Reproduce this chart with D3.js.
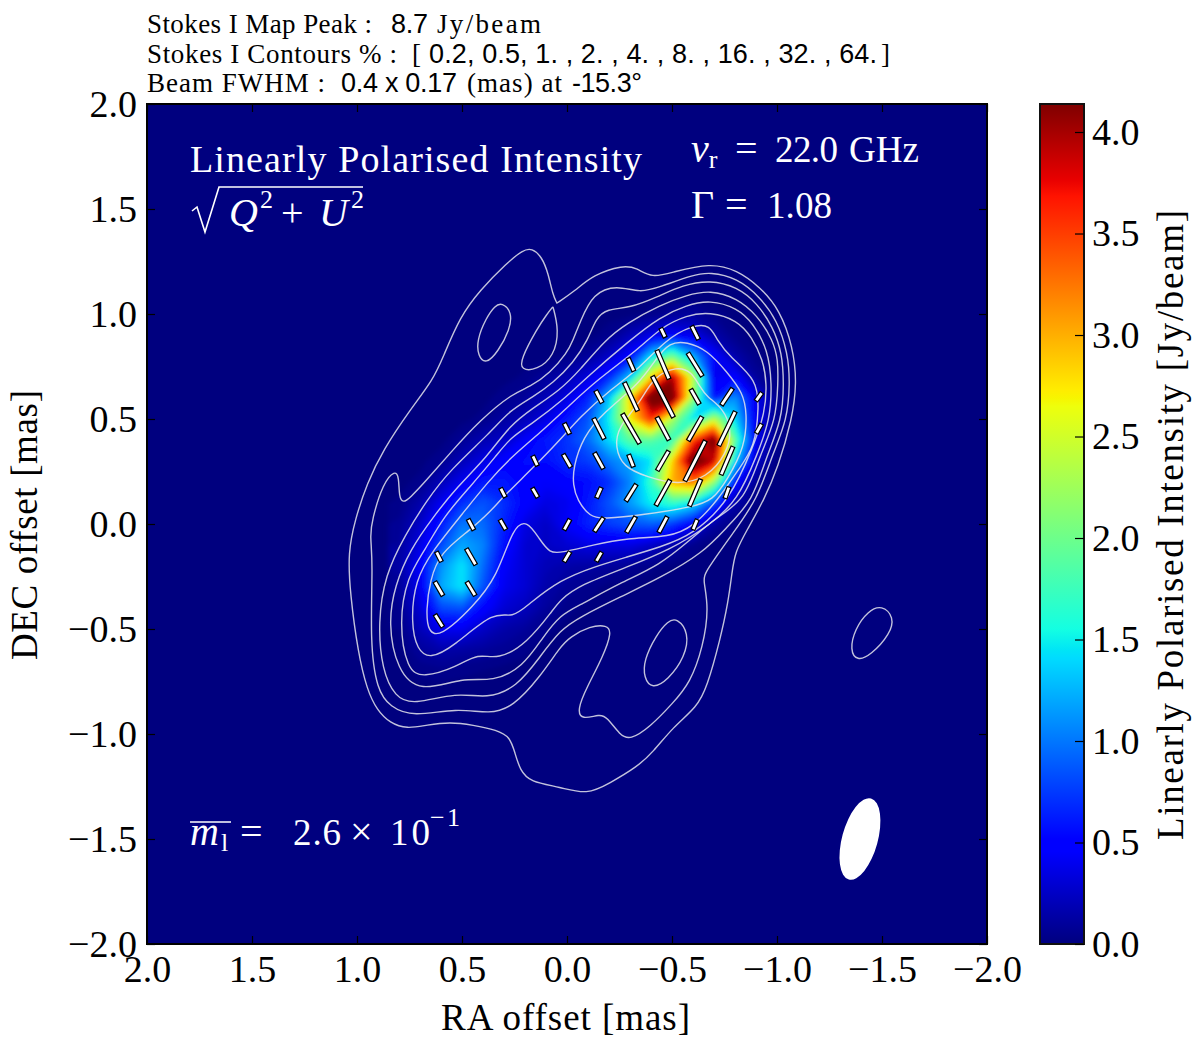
<!DOCTYPE html>
<html>
<head>
<meta charset="utf-8">
<script src="https://cdn.jsdelivr.net/npm/d3@7"></script>
<style>
  html, body { margin: 0; padding: 0; background: #fff; }
  svg { display: block; }
  text { font-family: "Liberation Serif", serif; fill: #000; }
  .sans { font-family: "Liberation Sans", sans-serif; }
  .tick text { font-size: 38px; }
</style>
</head>
<body>
<div id="chart"></div>
<script>
var axisTicks = [2, 1.5, 1, 0.5, 0, -0.5, -1, -1.5, -2];
var colorTicks = [0, 0.5, 1, 1.5, 2, 2.5, 3, 3.5, 4];
var colorMax = 4.138;

// polarised intensity in Jy/beam, every 0.1 mas
var gridRA = [0.8, 0.7, 0.6, 0.5, 0.4, 0.3, 0.2, 0.1, 0, -0.1, -0.2, -0.3, -0.4, -0.5, -0.6, -0.7, -0.8, -0.9, -1.0, -1.1];
var gridDec = [1.0, 0.9, 0.8, 0.7, 0.6, 0.5, 0.4, 0.3, 0.2, 0.1, 0, -0.1, -0.2, -0.3, -0.4, -0.5, -0.6, -0.7, -0.8];
var intensity = [
  [0, 0, 0, 0, 0, 0, 0, 0, 0, 0, 0, 0, .03, .08, .1, .05, 0, 0, 0, 0],
  [0, 0, 0, 0, 0, 0, 0, 0, 0, 0, .05, .2, .35, .45, .38, .15, .04, 0, 0, 0],
  [0, 0, 0, 0, 0, 0, 0, 0, .03, .1, .25, .5, 1.4, 2.0, 1.2, .5, .15, .03, 0, 0],
  [0, 0, 0, 0, 0, 0, .03, .1, .18, .33, .65, 1.3, 2.8, 4.0, 2.4, .4, .5, .1, .02, 0],
  [0, 0, 0, 0, 0, .05, .1, .2, .35, .65, 1.3, 2.8, 4.4, 4.4, 2.2, .55, 1.1, .4, .06, 0],
  [0, 0, 0, 0, .04, .12, .2, .35, .6, .85, 1.5, 2.7, 3.6, 2.3, 1.4, 2.4, 1.4, .4, .05, 0],
  [0, 0, 0, .08, .18, .25, .45, .6, .72, .95, 1.4, 1.9, 1.9, 1.7, 3.5, 4.3, 1.9, .4, .04, 0],
  [0, 0, .06, .2, .35, .5, .55, .55, .7, .75, 1.0, 1.2, 1.45, 2.8, 4.4, 3.9, 1.4, .25, .02, 0],
  [0, .04, .2, .4, .6, .6, .5, .45, .5, .55, .7, 1.05, 1.7, 3.0, 3.3, 2.2, .55, .07, 0, 0],
  [.03, .15, .4, .7, .85, .7, .5, .35, .4, .6, .85, 1.15, 1.5, 1.7, 1.45, .8, .15, .02, 0, 0],
  [.07, .25, .6, 1.0, .95, .65, .35, .25, .45, .65, .75, .85, .9, .75, .45, .12, .03, 0, 0, 0],
  [.1, .35, .8, 1.2, 1.05, .55, .3, .25, .3, .35, .35, .35, .25, .15, .05, 0, 0, 0, 0, 0],
  [.12, .45, 1.1, 1.45, .95, .45, .3, .2, .15, .12, .1, .07, .03, 0, 0, 0, 0, 0, 0, 0],
  [.08, .4, 1.2, 1.45, .85, .4, .3, .15, .08, .05, 0, 0, 0, 0, 0, 0, 0, 0, 0, 0],
  [.05, .3, .8, .85, .5, .3, .22, .1, .04, 0, 0, 0, 0, 0, 0, 0, 0, 0, 0, 0],
  [.02, .2, .4, .4, .25, .15, .1, .04, 0, 0, 0, 0, 0, 0, 0, 0, 0, 0, 0, 0],
  [0, .1, .15, .12, .1, .07, .03, 0, 0, 0, 0, 0, 0, 0, 0, 0, 0, 0, 0, 0],
  [0, .03, .04, .03, .02, 0, 0, 0, 0, 0, 0, 0, 0, 0, 0, 0, 0, 0, 0, 0],
  [0, 0, 0, 0, 0, 0, 0, 0, 0, 0, 0, 0, 0, 0, 0, 0, 0, 0, 0, 0]
];

// stokes I contours as [RA, Dec] in mas, outermost level first
var contour02 = [[.167,1.314],[.119,1.271],[.09,1.195],[.067,1.09],[.048,1.052],[.048,1.052],[.048,1.052],[-.038,1.11],[-.124,1.186],[-.267,1.233],[-.333,1.219],[-.405,1.171],[-.505,1.2],[-.681,1.243],[-.81,1.21],[-.919,1.129],[-1.014,1.019],[-1.076,.843],[-1.095,.671],[-1.071,.495],[-1.005,.271],[-.938,.114],[-.857,-.029],[-.8,-.133],[-.786,-.229],[-.767,-.376],[-.729,-.552],[-.667,-.776],[-.619,-.871],[-.505,-.967],[-.41,-1.086],[-.333,-1.157],[-.205,-1.233],[-.095,-1.29],[.033,-1.252],[.176,-1.229],[.224,-1.171],[.248,-1.09],[.271,-1.014],[.333,-.981],[.448,-.957],[.557,-.943],[.667,-.957],[.762,-.976],[.843,-.948],[.905,-.886],[.952,-.79],[.995,-.614],[1.033,-.329],[1.043,-.138],[1.01,.019],[.952,.195],[.876,.352],[.748,.543],[.638,.686],[.59,.795],[.51,.986],[.414,1.114],[.286,1.243],[.21,1.305]];
var island1 = [[.31,1.055],[.262,1.01],[.272,.924],[.329,.82],[.386,.76],[.424,.8],[.429,.876],[.386,.98],[.343,1.04]];
var island2 = [[.067,1.035],[.067,1.035],[.038,.924],[.061,.8],[.143,.733],[.22,.733],[.22,.785],[.143,.93],[.095,1.0]];
var island3 = [[-.524,-.447],[-.581,-.519],[-.562,-.633],[-.481,-.743],[-.405,-.786],[-.366,-.733],[-.366,-.648],[-.424,-.53],[-.481,-.461]];
var island4 = [[-1.5,-.385],[-1.558,-.443],[-1.539,-.524],[-1.448,-.624],[-1.381,-.653],[-1.347,-.6],[-1.371,-.5],[-1.433,-.414]];
var contour05 = [[.929,.019],[.876,.195],[.819,.257],[.8,.224],[.8,.129],[.781,.1],[.748,.124],[.676,.2],[.557,.338],[.414,.495],[.257,.624],[.176,.652],[.081,.719],[0,.814],[-.029,.876],[-.062,.962],[-.124,1.1],[-.238,1.138],[-.348,1.1],[-.443,1.129],[-.6,1.186],[-.681,1.2],[-.81,1.171],[-.919,1.081],[-1,.971],[-1.052,.814],[-1.062,.671],[-1.048,.495],[-.981,.338],[-.905,.114],[-.79,-.043],[-.657,-.229],[-.648,-.267],[-.676,-.395],[-.648,-.586],[-.586,-.757],[-.505,-.852],[-.395,-.967],[-.3,-1.029],[-.252,-1.005],[-.19,-.919],[-.157,-.905],[-.071,-.933],[-.048,-.886],[-.095,-.776],[-.171,-.633],[-.214,-.514],[-.19,-.481],[-.11,-.486],[-.014,-.538],[.033,-.586],[.129,-.729],[.257,-.871],[.367,-.905],[.524,-.876],[.733,-.919],[.843,-.871],[.905,-.79],[.938,-.567],[.924,-.171],[.938,-.062]];
var contour1 = [[.771,-.052],[.667,.114],[.557,.257],[.367,.433],[.271,.543],[.162,.605],[.067,.671],[-.029,.767],[-.1,.876],[-.138,.981],[-.19,1.024],[-.3,1.029],[-.429,1.081],[-.552,1.138],[-.681,1.162],[-.81,1.129],[-.905,1.052],[-.981,.938],[-1.024,.814],[-1.033,.671],[-1.024,.495],[-.943,.305],[-.886,.114],[-.762,-.014],[-.648,-.138],[-.443,-.257],[-.252,-.348],[-.062,-.443],[.033,-.505],[.129,-.633],[.238,-.776],[.381,-.833],[.524,-.8],[.733,-.862],[.819,-.824],[.881,-.695],[.9,-.471],[.867,-.243]];
var contour2 = [[.748,-.124],[.638,.033],[.524,.176],[.381,.319],[.271,.471],[.162,.552],[.033,.638],[-.062,.733],[-.181,.876],[-.286,.957],[-.443,1.043],[-.571,1.09],[-.681,1.114],[-.81,1.076],[-.905,.995],[-.981,.876],[-1.005,.781],[-1.005,.671],[-.995,.495],[-.919,.329],[-.848,.114],[-.714,.033],[-.586,-.076],[-.443,-.195],[-.252,-.281],[-.062,-.386],[.033,-.433],[.114,-.538],[.21,-.681],[.352,-.752],[.495,-.729],[.7,-.805],[.81,-.695],[.852,-.471],[.819,-.29]];
var contour4 = [[.676,-.124],[.59,.033],[.462,.176],[.333,.329],[.271,.41],[.162,.481],[.019,.59],[-.095,.7],[-.3,.876],[-.443,.986],[-.571,1.043],[-.681,1.067],[-.81,1.029],[-.886,.957],[-.957,.829],[-.976,.671],[-.967,.495],[-.905,.329],[-.814,.114],[-.681,-.005],[-.49,-.124],[-.286,-.205],[-.062,-.29],[.033,-.362],[.067,-.41],[.19,-.567],[.329,-.648],[.424,-.614],[.524,-.681],[.686,-.733],[.762,-.695],[.8,-.471],[.762,-.252]];
var contour8 = [[.724,-.267],[.638,-.124],[.495,.052],[.381,.195],[.271,.314],[.129,.433],[-.014,.567],[-.143,.686],[-.348,.838],[-.443,.933],[-.571,.995],[-.681,1.01],[-.81,.971],[-.881,.89],[-.933,.781],[-.952,.671],[-.943,.529],[-.886,.367],[-.776,.114],[-.6,-.052],[-.443,-.11],[-.286,-.157],[-.124,-.205],[.033,-.267],[.176,-.376],[.262,-.452],[.343,-.41],[.543,-.586],[.652,-.643],[.714,-.6],[.743,-.471]];
var contour16 = [[.671,-.41],[.652,-.267],[.605,-.138],[.462,-.029],[.367,.057],[.305,.129],[.162,.267],[.033,.4],[-.062,.51],[-.205,.638],[-.348,.743],[-.467,.876],[-.6,.948],[-.681,.948],[-.714,.876],[-.776,.795],[-.905,.686],[-.914,.557],[-.895,.367],[-.814,.257],[-.719,.114],[-.6,-.014],[-.49,-.062],[-.286,-.067],[-.124,-.1],[.033,-.138],[.081,-.138],[.129,-.076],[.19,.02],[.257,-.014],[.333,-.252],[.448,-.395],[.605,-.539],[.662,-.514]];
var contour32 = [[-.029,.267],[-.076,.414],[-.171,.529],[-.348,.671],[-.419,.781],[-.49,.867],[-.571,.867],[-.667,.829],[-.762,.724],[-.838,.624],[-.857,.529],[-.848,.367],[-.762,.21],[-.695,.114],[-.6,.081],[-.362,.043],[-.171,.024],[-.11,.033],[-.048,.114],[-.029,.186]];
var contour64 = [[-.229,.367],[-.243,.462],[-.348,.576],[-.41,.7],[-.524,.752],[-.595,.724],[-.633,.652],[-.667,.605],[-.743,.552],[-.786,.448],[-.762,.338],[-.667,.219],[-.524,.186],[-.381,.224],[-.267,.271]];
var allContours = [contour02, island1, island2, island3, island4, contour05, contour1, contour2, contour4, contour8, contour16, contour32, contour64];

// polarisation ticks: RA, Dec, length (mas), angle from north (deg)
var evpaTicks = [
  [-.457,.911,.048,25.7],[-.61,.911,.071,26.6],
  [-.305,.759,.067,24],[-.457,.759,.148,23],[-.61,.759,.129,31.7],
  [-.152,.606,.065,27.8],[-.305,.606,.148,25],[-.457,.606,.219,27],[-.61,.606,.081,29.6],[-.762,.606,.095,-33.4],[-.914,.606,.048,-35.8],
  [0,.454,.057,26.6],[-.152,.454,.11,27],[-.305,.454,.162,30],[-.457,.454,.122,28],[-.61,.454,.131,-29.7],[-.762,.454,.18,-25.7],[-.914,.454,.051,-29.7],
  [.152,.301,.052,25],[0,.301,.071,30],[-.152,.301,.086,29],[-.305,.301,.062,21],[-.457,.301,.107,-30],[-.61,.301,.214,-27],[-.762,.301,.145,-23],
  [.305,.149,.048,27],[.152,.149,.051,30],[-.152,.149,.054,-24],[-.305,.149,.093,-32],[-.457,.149,.138,-29],[-.61,.149,.138,-23],[-.762,.149,.057,-19],
  [.457,-.003,.057,28],[.305,-.003,.055,30],[0,-.003,.057,-29],[-.152,-.003,.079,-33],[-.305,-.003,.086,-30],[-.457,-.003,.084,-28],[-.61,-.003,.052,-23],
  [.61,-.156,.052,27],[.457,-.156,.088,30],[0,-.156,.055,-31],[-.152,-.156,.051,-30],
  [.61,-.308,.076,30],[.457,-.308,.076,31],
  [.61,-.461,.069,32]
];

var beamMajor = 0.4, beamMinor = 0.17, beamAngle = -15.3;
var beamCenter = [-1.395, -1.5];

// matplotlib jet
var jetStops = [0, .11, .125, .34, .35, .375, .64, .65, .66, .89, .91, 1];
var jetColors = ["#00007f", "#0000ff", "#0000ff", "#00dbff", "#00e5f6", "#14ffe2", "#eeff0c", "#f7f500", "#ffec00", "#ff1300", "#e80000", "#7f0000"];

var width = 1200, height = 1049;
var x = d3.scaleLinear().domain([2, -2]).range([147, 987]);
var y = d3.scaleLinear().domain([2, -2]).range([104, 944]);
var cbar = d3.scaleLinear().domain([0, colorMax]).range([944, 104]);
var color = d3.scaleLinear().domain(jetStops.map(function (s) { return s * colorMax; })).range(jetColors).clamp(true);
var fmt = function (d) { return d3.format(".1f")(d).replace("-", "\u2212"); };
var masToPx = function (d) { return x(-d) - x(0); };

var svg = d3.select("#chart").append("svg").attr("width", width).attr("height", height);
var defs = svg.append("defs");

defs.append("clipPath").attr("id", "plot-clip").append("rect")
  .attr("x", x(2)).attr("y", y(2)).attr("width", x(-2) - x(2)).attr("height", y(-2) - y(2));

var blur = defs.append("filter").attr("id", "soften").attr("filterUnits", "userSpaceOnUse")
  .attr("x", 147).attr("y", 104).attr("width", 840).attr("height", 840);
blur.append("feGaussianBlur").attr("stdDeviation", 2.5);

var grad = defs.append("linearGradient").attr("id", "jet")
  .attr("x1", 0).attr("y1", 1).attr("x2", 0).attr("y2", 0);
grad.selectAll("stop").data(jetStops).enter().append("stop")
  .attr("offset", function (d) { return d; })
  .attr("stop-color", function (d, i) { return jetColors[i]; });

// image
var plot = svg.append("g").attr("clip-path", "url(#plot-clip)");
plot.append("rect").attr("x", x(2)).attr("y", y(2))
  .attr("width", x(-2) - x(2)).attr("height", y(-2) - y(2)).attr("fill", color(0));

var flat = [];
intensity.forEach(function (row) { row.forEach(function (v) { flat.push(v); }); });
var levels = d3.range(0.02, 4.5, 0.04);
var bands = d3.contours().size([gridRA.length, gridDec.length]).thresholds(levels)(flat);

var raAt = d3.scaleLinear().domain([0.5, gridRA.length - 0.5]).range([gridRA[0], gridRA[gridRA.length - 1]]);
var decAt = d3.scaleLinear().domain([0.5, gridDec.length - 0.5]).range([gridDec[0], gridDec[gridDec.length - 1]]);
var gridPath = d3.geoPath(d3.geoTransform({
  point: function (a, b) { this.stream.point(x(raAt(a)), y(decAt(b))); }
}));

plot.append("g").attr("filter", "url(#soften)")
  .selectAll("path").data(bands).enter().append("path")
  .attr("d", gridPath)
  .attr("fill", function (d) { return color(d.value + 0.02); });

// stokes I contours
var contourLine = d3.line()
  .x(function (d) { return x(d[0]); })
  .y(function (d) { return y(d[1]); })
  .curve(d3.curveBasisClosed);

plot.append("g").selectAll("path").data(allContours).enter().append("path")
  .attr("d", contourLine)
  .attr("fill", "none")
  .attr("stroke", "#e4e4ec")
  .attr("stroke-opacity", 0.85)
  .attr("stroke-width", 1.4);

// polarisation ticks
plot.append("g").selectAll("rect").data(evpaTicks).enter().append("rect")
  .attr("x", -2)
  .attr("y", function (d) { return -masToPx(d[2]) / 2; })
  .attr("width", 4)
  .attr("height", function (d) { return masToPx(d[2]); })
  .attr("transform", function (d) {
    return "translate(" + x(d[0]) + "," + y(d[1]) + ") rotate(" + (-d[3]) + ")";
  })
  .attr("fill", "#fff")
  .attr("stroke", "#000")
  .attr("stroke-width", 1.2);

// beam
plot.append("ellipse")
  .attr("rx", masToPx(beamMinor / 2))
  .attr("ry", masToPx(beamMajor / 2))
  .attr("transform", "translate(" + x(beamCenter[0]) + "," + y(beamCenter[1]) + ") rotate(" + (-beamAngle) + ")")
  .attr("fill", "#fff");

// axes, ticks point inwards on all four sides
var noLabel = function () { return ""; };
function styleAxis(g) {
  g.selectAll(".domain").remove();
  g.selectAll(".tick line").attr("stroke", "#000").attr("stroke-width", 1.2);
  g.selectAll(".tick text").attr("fill", "#000").style("font-family", '"Liberation Serif", serif');
}
svg.append("g").attr("transform", "translate(0," + y(-2) + ")")
  .call(d3.axisBottom(x).tickValues(axisTicks).tickFormat(fmt).tickSize(-8).tickPadding(11)).call(styleAxis);
svg.append("g").attr("transform", "translate(0," + y(2) + ")")
  .call(d3.axisTop(x).tickValues(axisTicks).tickFormat(noLabel).tickSize(-8)).call(styleAxis);
svg.append("g").attr("transform", "translate(" + x(2) + ",0)")
  .call(d3.axisLeft(y).tickValues(axisTicks).tickFormat(fmt).tickSize(-8).tickPadding(10)).call(styleAxis);
svg.append("g").attr("transform", "translate(" + x(-2) + ",0)")
  .call(d3.axisRight(y).tickValues(axisTicks).tickFormat(noLabel).tickSize(-8)).call(styleAxis);

svg.append("rect").attr("x", x(2)).attr("y", y(2))
  .attr("width", x(-2) - x(2)).attr("height", y(-2) - y(2))
  .attr("fill", "none").attr("stroke", "#000").attr("stroke-width", 2);

// colour bar
svg.append("rect").attr("x", 1040).attr("y", cbar(colorMax))
  .attr("width", 44).attr("height", cbar(0) - cbar(colorMax))
  .attr("fill", "url(#jet)").attr("stroke", "#111").attr("stroke-width", 2);
svg.append("g").attr("transform", "translate(1084,0)")
  .call(d3.axisRight(cbar).tickValues(colorTicks).tickFormat(fmt).tickSize(-9).tickPadding(8)).call(styleAxis);

// labels
function label(str, px, py, size, cls, len) {
  var t = svg.append("text").text(str).attr("x", px).attr("y", py).attr("font-size", size);
  if (cls) t.attr("class", cls);
  if (len) t.attr("textLength", len).attr("lengthAdjust", "spacing");
  return t;
}
label("RA offset [mas]", 441, 1030, 37, null, 249);
svg.append("text").text("DEC offset [mas]").attr("font-size", 37)
  .attr("transform", "translate(37,660) rotate(-90)").attr("textLength", 270).attr("lengthAdjust", "spacing");
svg.append("text").text("Linearly Polarised Intensity [Jy/beam]").attr("font-size", 37)
  .attr("transform", "translate(1183,840) rotate(-90)").attr("textLength", 630).attr("lengthAdjust", "spacing");

// header
label("Stokes I Map Peak :", 147, 33, 27, null, 225);
label("8.7", 391, 33, 27, "sans", 37);
label("Jy/beam", 437, 33, 27, null, 104);
label("Stokes I Contours % :", 147, 63, 27, null, 250);
label("[", 412, 63, 27, null);
label("0.2, 0.5, 1. , 2. , 4. , 8. , 16. , 32. , 64.", 429, 63, 27, "sans", 448);
label("]", 881, 63, 27, null);
label("Beam FWHM :", 147, 92, 27, null, 178);
label("0.4 x 0.17", 341, 92, 27, "sans", 116);
label("(mas) at", 467, 92, 27, null, 95);
label("-15.3\u00b0", 572, 92, 27, "sans", 70);

// annotations on the map
function note(str, px, py, size, len) {
  return label(str, px, py, size, null, len).style("fill", "#fff");
}
note("Linearly Polarised Intensity", 190, 172, 38, 452);
var nu = svg.append("text").attr("x", 691).attr("y", 162).attr("font-size", 40).style("fill", "#fff");
nu.append("tspan").text("\u03bd").attr("font-style", "italic");
nu.append("tspan").text("r").attr("font-size", 26).attr("dy", 6);
note("=", 735, 162, 40);
note("22.0", 775, 162, 37, 63);
note("GHz", 849, 162, 37, 70);
note("\u0393", 691, 218, 40);
note("=", 725, 218, 40);
note("1.08", 767, 218, 37, 65);

// sqrt(Q^2 + U^2)
var rootParts = [
  ["Q", 229, 226, 40, "italic"], ["2", 260, 208, 26, "normal"], ["+", 281, 226, 40, "normal"],
  ["U", 319, 226, 40, "italic"], ["2", 351, 208, 26, "normal"]
];
rootParts.forEach(function (p) {
  note(p[0], p[1], p[2], p[3]).attr("font-style", p[4]);
});
svg.append("path").attr("d", "M192,211L197,207L205,232L219,187L363,187")
  .attr("fill", "none").attr("stroke", "#fff").attr("stroke-width", 1.6);

// mean fractional polarisation
note("m", 190, 845, 40).attr("font-style", "italic");
note("l", 221, 851, 26);
note("=", 240, 845, 40);
note("2.6", 293, 845, 37, 48);
note("\u00d7", 350, 845, 40);
note("10", 390, 845, 37, 40);
note("\u22121", 430, 826, 26, 30);
svg.append("line").attr("x1", 190).attr("x2", 231).attr("y1", 822).attr("y2", 822)
  .attr("stroke", "#fff").attr("stroke-width", 1.6);
</script>
</body>
</html>
